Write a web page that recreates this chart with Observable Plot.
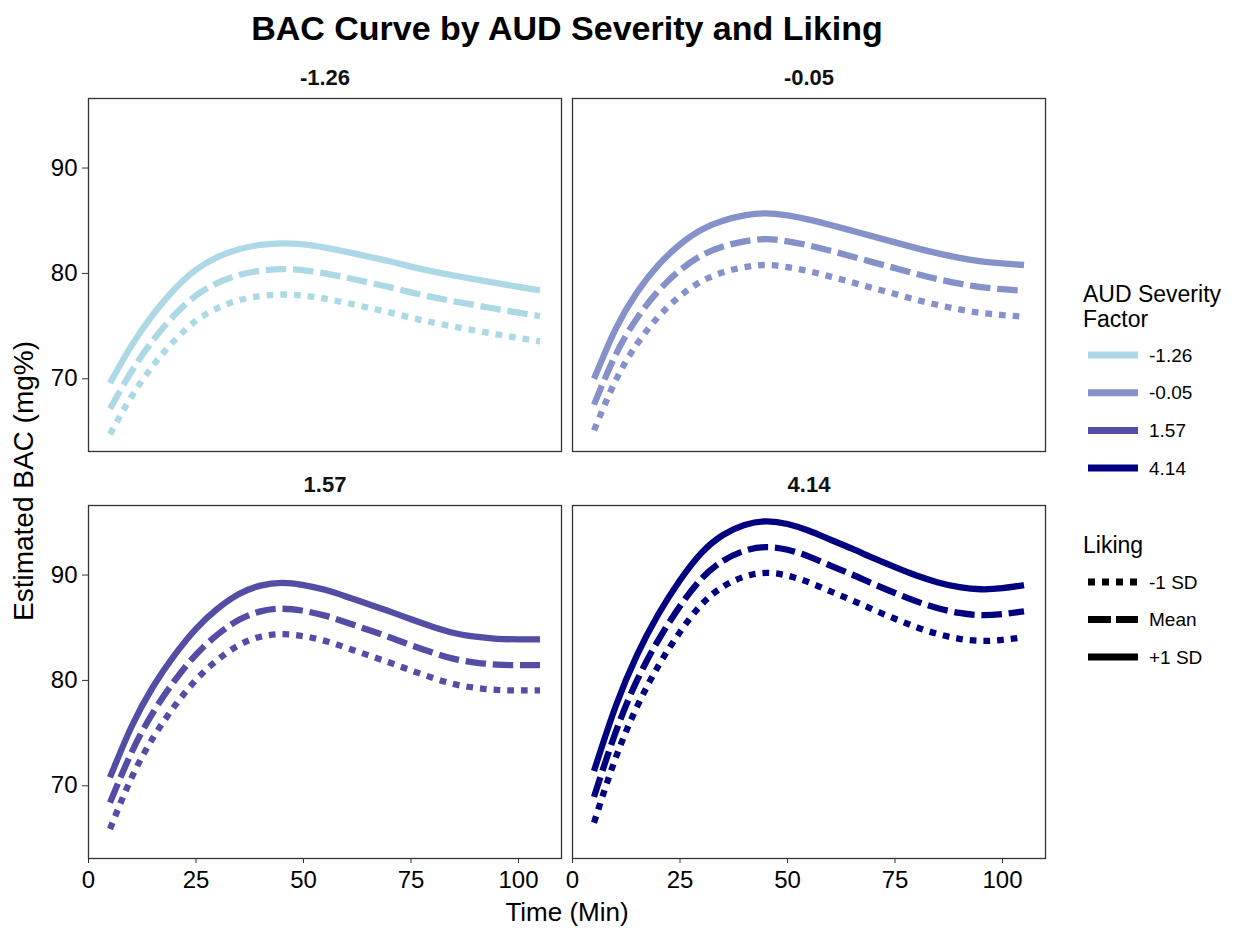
<!DOCTYPE html>
<html><head><meta charset="utf-8">
<script src="https://cdn.jsdelivr.net/npm/d3@7"></script>
<script src="https://cdn.jsdelivr.net/npm/@observablehq/plot@0.6"></script>
<style>
body{margin:0;background:#fff;}
#wrap{position:relative;width:1238px;height:931px;font-family:"Liberation Sans", Arial, sans-serif;}
#wrap svg{position:absolute;left:0;top:0;}
</style></head><body><div id="wrap"></div>
<script>
// ---- data ----
const times = [5, 10, 15, 20, 25, 30, 35, 40, 45, 50, 55, 60, 65, 70, 75, 80, 85, 90, 95, 100, 105];
const severityLabels = ["-1.26", "-0.05", "1.57", "4.14"];
const severityColors = ["#ADD8E6", "#8591C8", "#534DA5", "#000080"];
const likingLabels = ["-1 SD", "Mean", "+1 SD"];
const xTicks = [0, 25, 50, 75, 100];
const yTicks = [70, 80, 90];

// AUD severity -1.26
const bac_m126_low  = [64.75, 68.3, 71.25, 73.65, 75.5, 76.7, 77.45, 77.85, 78.0, 77.9, 77.6, 77.2, 76.75, 76.3, 75.8, 75.35, 74.95, 74.58, 74.22, 73.87, 73.55];
const bac_m126_mean = [67.15, 70.7, 73.65, 76.05, 77.9, 79.1, 79.85, 80.25, 80.4, 80.3, 80.0, 79.6, 79.15, 78.7, 78.2, 77.75, 77.35, 76.98, 76.62, 76.27, 75.95];
const bac_m126_high = [69.6, 73.15, 76.1, 78.5, 80.35, 81.55, 82.3, 82.7, 82.85, 82.75, 82.45, 82.05, 81.6, 81.15, 80.65, 80.2, 79.8, 79.43, 79.07, 78.72, 78.4];
// AUD severity -0.05
const bac_m005_low  = [65.1, 69.8, 73.3, 75.9, 77.85, 79.25, 80.1, 80.6, 80.8, 80.6, 80.2, 79.7, 79.15, 78.6, 78.05, 77.5, 77.0, 76.58, 76.25, 76.05, 75.9];
const bac_m005_mean = [67.55, 72.25, 75.75, 78.35, 80.3, 81.7, 82.55, 83.05, 83.25, 83.05, 82.65, 82.15, 81.6, 81.05, 80.5, 79.95, 79.45, 79.03, 78.7, 78.5, 78.35];
const bac_m005_high = [70.0, 74.7, 78.2, 80.8, 82.75, 84.15, 85.0, 85.5, 85.7, 85.5, 85.1, 84.6, 84.05, 83.5, 82.95, 82.4, 81.9, 81.48, 81.15, 80.95, 80.8];
// AUD severity 1.57
const bac_p157_low  = [65.9, 70.75, 74.55, 77.55, 80.05, 81.95, 83.35, 84.15, 84.4, 84.2, 83.75, 83.1, 82.4, 81.7, 80.95, 80.25, 79.65, 79.3, 79.1, 79.05, 79.05];
const bac_p157_mean = [68.4, 73.15, 76.95, 79.95, 82.45, 84.35, 85.75, 86.55, 86.8, 86.6, 86.15, 85.5, 84.8, 84.1, 83.35, 82.65, 82.05, 81.7, 81.5, 81.45, 81.45];
const bac_p157_high = [70.8, 75.6, 79.4, 82.4, 84.9, 86.8, 88.2, 89.0, 89.25, 89.05, 88.6, 87.95, 87.25, 86.55, 85.8, 85.1, 84.5, 84.15, 83.95, 83.9, 83.9];
// AUD severity 4.14
const bac_p414_low  = [66.5, 72.6, 77.5, 81.4, 84.6, 87.2, 88.9, 89.85, 90.2, 89.95, 89.3, 88.45, 87.6, 86.7, 85.85, 85.05, 84.4, 83.95, 83.75, 83.85, 84.1];
const bac_p414_mean = [68.95, 75.05, 80.0, 83.85, 87.05, 89.65, 91.35, 92.3, 92.65, 92.4, 91.75, 90.9, 90.05, 89.15, 88.3, 87.5, 86.85, 86.4, 86.2, 86.3, 86.55];
const bac_p414_high = [71.4, 77.5, 82.4, 86.3, 89.5, 92.1, 93.8, 94.75, 95.1, 94.85, 94.2, 93.35, 92.5, 91.6, 90.75, 89.95, 89.3, 88.85, 88.65, 88.75, 89.05];

const seriesBySeverity = [
  [bac_m126_low, bac_m126_mean, bac_m126_high],
  [bac_m005_low, bac_m005_mean, bac_m005_high],
  [bac_p157_low, bac_p157_mean, bac_p157_high],
  [bac_p414_low, bac_p414_mean, bac_p414_high]
];

// ---- styles ----
const lineDash = ["6.7,7", "20.5,6.8", undefined];
const legendDash = ["7,7", "23,5", undefined];
const FONT = "Liberation Sans, Arial, Helvetica, sans-serif";

const rows = [];
severityLabels.forEach((sev, si) => {
  seriesBySeverity[si].forEach((vals, li) => {
    vals.forEach((v, k) => rows.push({
      sev, liking: likingLabels[li], time: times[k], bac: v,
      col: si % 2, row: Math.floor(si / 2)
    }));
  });
});

const plot = Plot.plot({
  width: 1238, height: 931,
  marginLeft: 88, marginRight: 193, marginTop: 98, marginBottom: 73,
  style: {fontFamily: FONT, color: "#000", background: "transparent", overflow: "visible"},
  x: {domain: [0, 110], label: null},
  y: {domain: [63.1, 96.6], label: null},
  fx: {domain: [0, 1], paddingInner: 11 / 484, paddingOuter: 0, axis: null, round: false},
  fy: {domain: [0, 1], paddingInner: 54 / 407, paddingOuter: 0, axis: null, round: false},
  color: {type: "ordinal", domain: severityLabels, range: severityColors},
  marks: [
    Plot.frame({stroke: "#333", strokeWidth: 1.3}),
    ...likingLabels.map((lk, li) => Plot.line(rows.filter(d => d.liking === lk), {
      x: "time", y: "bac", z: "sev", stroke: "sev", fx: "col", fy: "row",
      curve: "natural", strokeWidth: 6.3, strokeDasharray: lineDash[li], strokeLinecap: "butt"
    })),
    Plot.text(severityLabels, {
      fx: (d, i) => i % 2, fy: (d, i) => Math.floor(i / 2), text: d => d,
      frameAnchor: "top", lineAnchor: "middle", dy: -21, fontSize: 22, fontWeight: "bold", fill: "#111"
    }),
    Plot.axisX({ticks: xTicks, tickSize: 5, tickPadding: 7, fontSize: 24, label: null, facetAnchor: "bottom", stroke: "#333"}),
    Plot.axisY({ticks: yTicks, tickSize: 6, tickPadding: 5, fontSize: 24, label: null, facetAnchor: "left", stroke: "#333"})
  ]
});

const wrap = document.getElementById("wrap");
wrap.appendChild(plot);

// ---- overlay: title, axis titles, legends ----
const svg = d3.select(wrap).append("svg")
  .attr("width", 1238).attr("height", 931)
  .style("font-family", FONT).style("pointer-events", "none");

svg.append("text").attr("x", 567).attr("y", 40).attr("text-anchor", "middle")
  .attr("font-size", 34).attr("font-weight", "bold").attr("fill", "#000")
  .text("BAC Curve by AUD Severity and Liking");

svg.append("text").attr("x", 567).attr("y", 921).attr("text-anchor", "middle")
  .attr("font-size", 26).attr("fill", "#000").text("Time (Min)");

svg.append("text").attr("transform", "translate(33,481) rotate(-90)").attr("text-anchor", "middle")
  .attr("font-size", 28).attr("fill", "#000").text("Estimated BAC (mg%)");

// severity legend
const lg1 = svg.append("g");
lg1.append("text").attr("x", 1083).attr("y", 302).attr("font-size", 23).attr("fill", "#000").text("AUD Severity");
lg1.append("text").attr("x", 1083).attr("y", 327).attr("font-size", 23).attr("fill", "#000").text("Factor");
severityLabels.forEach((s, i) => {
  const y = 355 + i * 37.7;
  lg1.append("line").attr("x1", 1088).attr("x2", 1138).attr("y1", y).attr("y2", y)
    .attr("stroke", severityColors[i]).attr("stroke-width", 7);
  lg1.append("text").attr("x", 1149).attr("y", y).attr("dy", "0.35em")
    .attr("font-size", 19).attr("fill", "#000").text(s);
});

// liking legend
const lg2 = svg.append("g");
lg2.append("text").attr("x", 1083).attr("y", 553).attr("font-size", 23).attr("fill", "#000").text("Liking");
likingLabels.forEach((s, i) => {
  const y = 582 + i * 37.5;
  const ln = lg2.append("line").attr("x1", 1088).attr("x2", 1138).attr("y1", y).attr("y2", y)
    .attr("stroke", "#000").attr("stroke-width", 7);
  if (legendDash[i]) ln.attr("stroke-dasharray", legendDash[i]);
  lg2.append("text").attr("x", 1149).attr("y", y).attr("dy", "0.35em")
    .attr("font-size", 19).attr("fill", "#000").text(s);
});
</script></body></html>
